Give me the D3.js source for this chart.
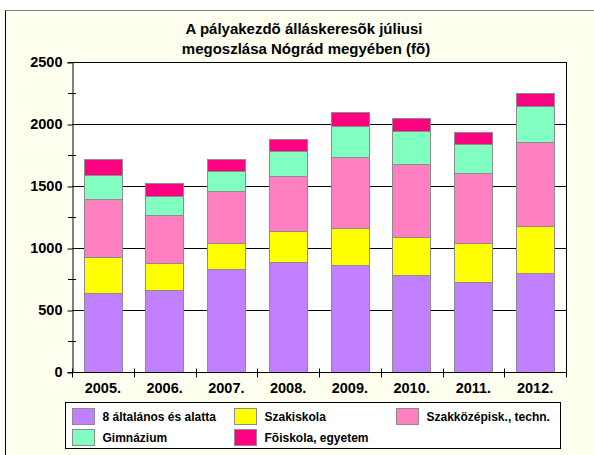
<!DOCTYPE html>
<html>
<head>
<meta charset="utf-8">
<script src="https://cdn.jsdelivr.net/npm/d3@7"></script>
<style>
  body { margin: 0; background: #fff; }
  svg text { font-family: "Liberation Sans", Arial, sans-serif; font-weight: bold; fill: #000; }
</style>
</head>
<body>
<svg id="chart"></svg>
<script>
    const svg_width = 594;
    const svg_height = 455;

    // data
    var years = ["2005.", "2006.", "2007.", "2008.", "2009.", "2010.", "2011.", "2012."];
    var series_names = ["8 általános és alatta", "Szakiskola", "Szakközépisk., techn.", "Gimnázium", "Fõiskola, egyetem"];
    var altalanos = [640, 659, 831, 885, 863, 785, 723, 801];
    var szakiskola = [290, 217, 209, 255, 296, 304, 317, 376];
    var szakkozep = [463, 387, 420, 440, 575, 586, 567, 678];
    var gimnazium = [196, 159, 164, 202, 247, 266, 234, 288];
    var foiskola = [126, 100, 91, 97, 113, 105, 92, 107];
    var y_ticks = [0, 500, 1000, 1500, 2000, 2500];

    var colors = ["#C080FF", "#FFFF00", "#FF80C0", "#80FFC0", "#FF0080"];

    var margin = {
      top: 62,
      right: 28,
      bottom: 83,
      left: 72
    };

    var width = svg_width - margin.left - margin.right;
    var height = svg_height - margin.top - margin.bottom;

    var svg = d3.select("svg#chart")
        .attr("width", svg_width)
        .attr("height", svg_height);

    // chart area background, only top and left border visible
    svg.append("rect")
      .attr("x", 5.5)
      .attr("y", 10.5)
      .attr("width", svg_width)
      .attr("height", svg_height)
      .style("fill", "#FFFFF0")
      .style("stroke", "none");
    svg.append("line")
      .attr("x1", 5.5).attr("x2", svg_width)
      .attr("y1", 10.5).attr("y2", 10.5)
      .style("stroke", "#808080");
    svg.append("line")
      .attr("x1", 5.5).attr("x2", 5.5)
      .attr("y1", 10.5).attr("y2", svg_height)
      .style("stroke", "#000");

    // title
    var title = svg.append("text")
      .attr("text-anchor", "middle")
      .style("font-size", "15px");
    title.append("tspan").attr("x", 304).attr("y", 34).text("A pályakezdõ álláskeresõk júliusi");
    title.append("tspan").attr("x", 306).attr("y", 54).text("megoszlása Nógrád megyében (fõ)");

    var rows = years.map((d, i) => ({
      year: d,
      s0: altalanos[i],
      s1: szakiskola[i],
      s2: szakkozep[i],
      s3: gimnazium[i],
      s4: foiskola[i]
    }));
    var keys = ["s0", "s1", "s2", "s3", "s4"];
    var stacked = d3.stack().keys(keys)(rows);

    var x = d3.scaleBand()
        .domain(years)
        .range([0, width])
        .paddingInner(0.38)
        .paddingOuter(0.19);

    var y = d3.scaleLinear()
        .domain([0, 2500])
        .range([height, 0]);

    var g = svg.append("g")
        .attr("transform", translate(margin.left, margin.top));

    g.append("rect")
      .attr("x", 0)
      .attr("y", 0)
      .attr("width", width)
      .attr("height", height)
      .style("fill", "#fff");

    // gridlines
    g.append("g")
      .selectAll("line")
      .data(y_ticks.slice(1))
      .enter()
      .append("line")
      .attr("x1", 0)
      .attr("x2", width)
      .attr("y1", d => Math.round(y(d)) + 0.5)
      .attr("y2", d => Math.round(y(d)) + 0.5)
      .style("stroke", "#000");

    // right border
    g.append("line")
      .attr("x1", width + 0.5).attr("x2", width + 0.5)
      .attr("y1", 0).attr("y2", height)
      .style("stroke", "#000");

    // bars
    g.selectAll("g.layer")
      .data(stacked)
      .enter()
      .append("g")
      .attr("class", "layer")
      .style("fill", (d, i) => colors[i])
      .selectAll("rect")
      .data(d => d)
      .enter()
      .append("rect")
      .attr("x", d => Math.round(x(d.data.year)) + 0.5)
      .attr("y", d => Math.round(y(d[1])) + 0.5)
      .attr("width", Math.round(x.bandwidth()))
      .attr("height", d => Math.round(y(d[0])) - Math.round(y(d[1])))
      .style("stroke", "#8C8C8C")
      .style("stroke-width", 1);

    // y axis
    var yAxis = d3.axisLeft()
        .scale(y)
        .tickValues(y_ticks)
        .tickFormat(d3.format("d"))
        .tickSize(5)
        .tickPadding(5);

    var ya = g.append("g")
      .attr("transform", translate(0.5, 0))
      .call(yAxis);
    ya.select(".domain").style("stroke", "#000");
    ya.selectAll(".tick line").attr("transform", (d) => "translate(0," + (Math.round(y(d)) + 0.5 - y(d)) + ")");
    ya.selectAll("text").style("font-size", "14.5px").style("font-family", null);

    // minor ticks crossing the axis
    g.append("g")
      .selectAll("line")
      .data([250, 750, 1250, 1750, 2250])
      .enter()
      .append("line")
      .attr("x1", -4)
      .attr("x2", 4)
      .attr("y1", d => Math.round(y(d)) + 0.5)
      .attr("y2", d => Math.round(y(d)) + 0.5)
      .style("stroke", "#000");

    // x axis
    var xa = g.append("g")
      .attr("transform", translate(0, Math.round(height) + 0.5));
    xa.append("line")
      .attr("x1", 0).attr("x2", width)
      .style("stroke", "#000");
    xa.selectAll("line.sep")
      .data(d3.range(years.length + 1))
      .enter()
      .append("line")
      .attr("class", "sep")
      .attr("x1", i => Math.round(i * width / years.length) + 0.5)
      .attr("x2", i => Math.round(i * width / years.length) + 0.5)
      .attr("y1", -4)
      .attr("y2", 5)
      .style("stroke", "#000");
    xa.selectAll("text")
      .data(years)
      .enter()
      .append("text")
      .attr("x", d => x(d) + x.bandwidth() / 2)
      .attr("y", 20)
      .attr("text-anchor", "middle")
      .style("font-size", "14.5px")
      .text(d => d);

    // legend
    var legend = svg.append("g")
        .attr("transform", translate(65.5, 402.5));
    legend.append("rect")
      .attr("width", 495)
      .attr("height", 46)
      .style("fill", "#fff")
      .style("stroke", "#000");

    var legend_pos = [[7, 6], [169, 6], [331, 6], [7, 27], [169, 27]];
    var item = legend.selectAll("g.item")
      .data(series_names)
      .enter()
      .append("g")
      .attr("class", "item")
      .attr("transform", (d, i) => translate(legend_pos[i][0], legend_pos[i][1]));
    item.append("rect")
      .attr("width", 22)
      .attr("height", 16)
      .style("fill", (d, i) => colors[i])
      .style("stroke", "#8C8C8C");
    item.append("text")
      .attr("x", 30)
      .attr("y", 12)
      .style("font-size", "12px")
      .text(d => d);

    function translate(x, y) {
      return 'translate(' + String(x) + ',' + String(y) + ')';
    }
</script>
</body>
</html>
